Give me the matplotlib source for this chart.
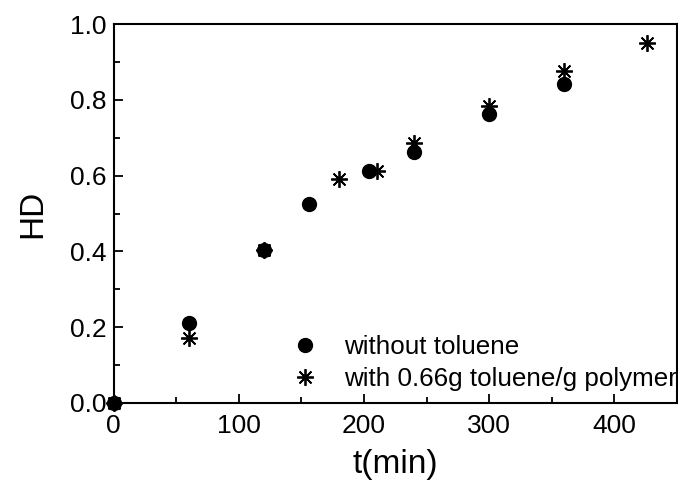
import matplotlib
matplotlib.use("Agg")
import matplotlib.pyplot as plt
from matplotlib.ticker import MultipleLocator

plt.rcParams['font.family'] = ['Liberation Sans', 'DejaVu Sans']

t_without = [0, 60, 120, 156, 204, 240, 300, 360]
hd_without = [0.0, 0.212, 0.404, 0.525, 0.613, 0.663, 0.762, 0.843]
t_with = [0, 60, 120, 180, 210, 240, 300, 360, 426]
hd_with = [0.0, 0.171, 0.405, 0.59, 0.613, 0.685, 0.784, 0.877, 0.951]

label_without = "without toluene"
label_with = "with 0.66g toluene/g polymer"

fig = plt.figure(figsize=(6.78, 4.87), dpi=100)
ax = fig.add_axes([0.1676, 0.1725, 0.8309, 0.778])

ax.plot(t_without, hd_without, linestyle='none', marker='o', markersize=10,
        color='black', label=label_without, clip_on=False, zorder=3)
ax.plot(t_with, hd_with, linestyle='none', marker=(8, 2, 0), markersize=12,
        markeredgewidth=1.3, color='black', label=label_with, clip_on=False, zorder=3)

ax.set_xlim(0, 450)
ax.set_ylim(0, 1.0)
ax.xaxis.set_major_locator(MultipleLocator(100))
ax.xaxis.set_minor_locator(MultipleLocator(50))
ax.yaxis.set_major_locator(MultipleLocator(0.2))
ax.yaxis.set_minor_locator(MultipleLocator(0.1))
ax.yaxis.set_major_formatter(matplotlib.ticker.FormatStrFormatter('%.1f'))

ax.tick_params(which='both', direction='in', top=False, right=False,
               labelsize=19, width=1.3)
ax.tick_params(axis='x', which='both', pad=8)
ax.tick_params(axis='y', which='both', pad=5)
ax.tick_params(which='major', length=6.5)
ax.tick_params(which='minor', length=4.3)
for s in ax.spines.values():
    s.set_linewidth(1.5)

ax.set_xlabel('t(min)', fontsize=24, labelpad=8)
ax.set_ylabel('HD', fontsize=24, labelpad=16)

ax.legend(loc='center left', bbox_to_anchor=(0.317, 0.1055), frameon=False,
          fontsize=18.7, handlelength=1.0, handletextpad=1.0, labelspacing=0.33,
          borderaxespad=0, borderpad=0)

fig.savefig('out.png', dpi=100)
